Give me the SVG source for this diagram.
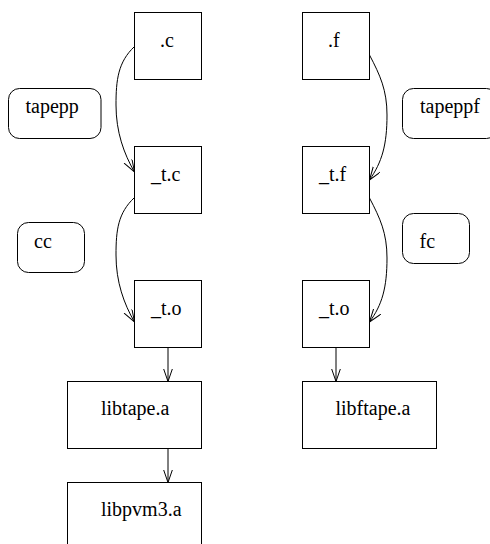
<svg xmlns="http://www.w3.org/2000/svg" width="490" height="544" viewBox="0 0 490 544">
<style>
.box{fill:#fff;stroke:#000;stroke-width:1}
.t{font-family:'Liberation Serif','Times New Roman','DejaVu Serif',serif;font-size:20px;fill:#000}
.c{fill:none;stroke:#000;stroke-width:1}
</style>
<defs>
<marker id="ah" markerWidth="14" markerHeight="10" refX="13" refY="4.5" orient="auto" markerUnits="userSpaceOnUse">
<path d="M0,0 L13,4.5 L0,9" fill="none" stroke="#000" stroke-width="1"/>
</marker>
</defs>
<rect width="490" height="544" fill="#fff"/>
<g id="connectors">
<path class="c" d="M134.5,46.5 C118,62 116,80 116,105 C116,132 124,154 134.5,172" marker-end="url(#ah)"/>
<path class="c" d="M134.5,197.5 C118,213 116,230 116,255 C116,282 124,304 134.5,322" marker-end="url(#ah)"/>
<path class="c" d="M369.5,55 C380,75 387,90 387,115 C387,145 382,162 369.5,180" marker-end="url(#ah)"/>
<path class="c" d="M369.5,198 C380,218 387,233 387,258 C387,288 382,305 369.5,322" marker-end="url(#ah)"/>
<path class="c" d="M168,347.5 L168,381.5" marker-end="url(#ah)"/>
<path class="c" d="M168,448.5 L168,482.5" marker-end="url(#ah)"/>
<path class="c" d="M336,347.5 L336,381.5" marker-end="url(#ah)"/>
</g>
<g id="n_c"><rect class="box" x="134.5" y="12.5" width="67" height="67"/><text class="t" font-family="Liberation Serif, serif" x="160" y="46.5">.c</text></g>
<g id="n_tc"><rect class="box" x="134.5" y="146.5" width="67" height="67"/><text class="t" font-family="Liberation Serif, serif" x="151" y="181">_t.c</text></g>
<g id="n_to1"><rect class="box" x="134.5" y="280.5" width="67" height="67"/><text class="t" font-family="Liberation Serif, serif" x="151" y="315">_t.o</text></g>
<g id="n_libtape"><rect class="box" x="67.5" y="381.5" width="134" height="67"/><text class="t" font-family="Liberation Serif, serif" x="101" y="415">libtape.a</text></g>
<g id="n_libpvm3"><rect class="box" x="67.5" y="482.5" width="134" height="67"/><text class="t" font-family="Liberation Serif, serif" x="101" y="516">libpvm3.a</text></g>
<g id="n_f"><rect class="box" x="302.5" y="12.5" width="67" height="67"/><text class="t" font-family="Liberation Serif, serif" x="328" y="46.5">.f</text></g>
<g id="n_tf"><rect class="box" x="302.5" y="146.5" width="67" height="67"/><text class="t" font-family="Liberation Serif, serif" x="319" y="181">_t.f</text></g>
<g id="n_to2"><rect class="box" x="302.5" y="280.5" width="67" height="67"/><text class="t" font-family="Liberation Serif, serif" x="319" y="315">_t.o</text></g>
<g id="n_libftape"><rect class="box" x="302.5" y="381.5" width="134" height="67"/><text class="t" font-family="Liberation Serif, serif" x="335.5" y="415">libftape.a</text></g>
<g id="n_tapepp"><rect class="box" x="8.5" y="88.5" width="92.5" height="50" rx="11"/><text class="t" font-family="Liberation Serif, serif" x="25.5" y="113">tapepp</text></g>
<g id="n_tapeppf"><rect class="box" x="402.5" y="88.5" width="95" height="50" rx="11"/><text class="t" font-family="Liberation Serif, serif" x="420" y="113">tapeppf</text></g>
<g id="n_cc"><rect class="box" x="17.5" y="222.5" width="67" height="50" rx="11"/><text class="t" font-family="Liberation Serif, serif" x="34" y="247.5">cc</text></g>
<g id="n_fc"><rect class="box" x="402.5" y="213.5" width="67" height="50" rx="11"/><text class="t" font-family="Liberation Serif, serif" x="419.5" y="248">fc</text></g>
</svg>
